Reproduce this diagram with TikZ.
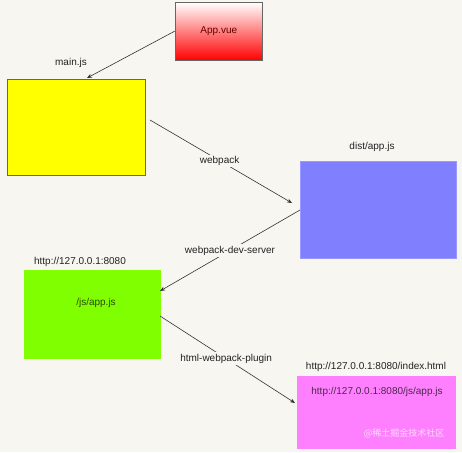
\documentclass[tikz,border=0pt]{standalone}
\usepackage{fontspec}
\setmainfont{Liberation Sans}
\newfontfamily\cjk{Noto Sans CJK SC}
\usetikzlibrary{arrows.meta}
\definecolor{bgc}{HTML}{F7F6F1}
\definecolor{redc}{HTML}{FF0000}
\definecolor{yelc}{HTML}{FFFF00}
\definecolor{bluec}{HTML}{8080FF}
\definecolor{greenc}{HTML}{80FF00}
\definecolor{pinkc}{HTML}{FF80FF}
\definecolor{txt}{HTML}{222222}
\begin{document}
\begin{tikzpicture}[x=1pt,y=-1pt,
  box/.style={rectangle,inner sep=0pt,anchor=north west},
  lbl/.style={font=\fontsize{10}{12}\selectfont,text=txt,inner sep=1pt},
  edgelbl/.style={lbl,fill=bgc,inner sep=1.5pt},
  conn/.style={draw=black!80,line width=0.6pt,-{Stealth[length=5pt,width=4pt]}}]
\fill[bgc] (0,0) rectangle (462,452);
\useasboundingbox (0,0) rectangle (462,452);
% boxes
\node[box,minimum width=87pt,minimum height=58pt,draw=black!60,line width=0.6pt,top color=white,bottom color=redc] (app) at (175,2) {};
\node[lbl,text=red!40!black] at (app.center) {App.vue};
\node[box,minimum width=138pt,minimum height=96pt,fill=yelc,draw=black!55!yelc,line width=0.6pt] (main) at (7,79) {};
\node[box,minimum width=156pt,minimum height=97pt,fill=bluec,draw=bluec!80!white,line width=0.4pt] (dist) at (300,161) {};
\node[box,minimum width=137pt,minimum height=89pt,fill=greenc] (serv) at (24,270) {};
\node[box,minimum width=159pt,minimum height=73pt,fill=pinkc] (html) at (297,376) {};
% titles
\node[lbl] (tmain) at (71,63) {main.js};
\node[lbl] (tdist) at (372,147) {dist/app.js};
\node[lbl] (tserv) at (80,262) {http://127.0.0.1:8080};
\node[lbl] (thtml) at (376,367) {http://127.0.0.1:8080/index.html};
\node[lbl,text=greenc!30!black] (iserv) at (96,303) {/js/app.js};
\node[lbl,text=pinkc!30!black] (ihtml) at (377,392) {http://127.0.0.1:8080/js/app.js};
\node[font=\cjk\fontsize{9}{11}\selectfont,text=white!70!pinkc,inner sep=0pt] (wm) at (404,433) {@稀土掘金技术社区};
% anchor coordinates
\coordinate (a1) at (175,31);
\coordinate (a2) at (87,78);
\coordinate (b1) at (150,120);
\coordinate (b2) at (292,203);
\coordinate (c1) at (300,210);
\coordinate (c2) at (160,291);
\coordinate (d1) at (160,316);
\coordinate (d2) at (295,403);
\draw[conn] (a1) -- (a2);
\draw[conn] (b1) -- node[edgelbl,pos=0.49] {webpack} (b2);
\draw[conn] (c1) -- node[edgelbl,pos=0.5] {webpack-dev-server} (c2);
\draw[conn] (d1) -- node[edgelbl,pos=0.49] {html-webpack-plugin} (d2);
\end{tikzpicture}
\end{document}
